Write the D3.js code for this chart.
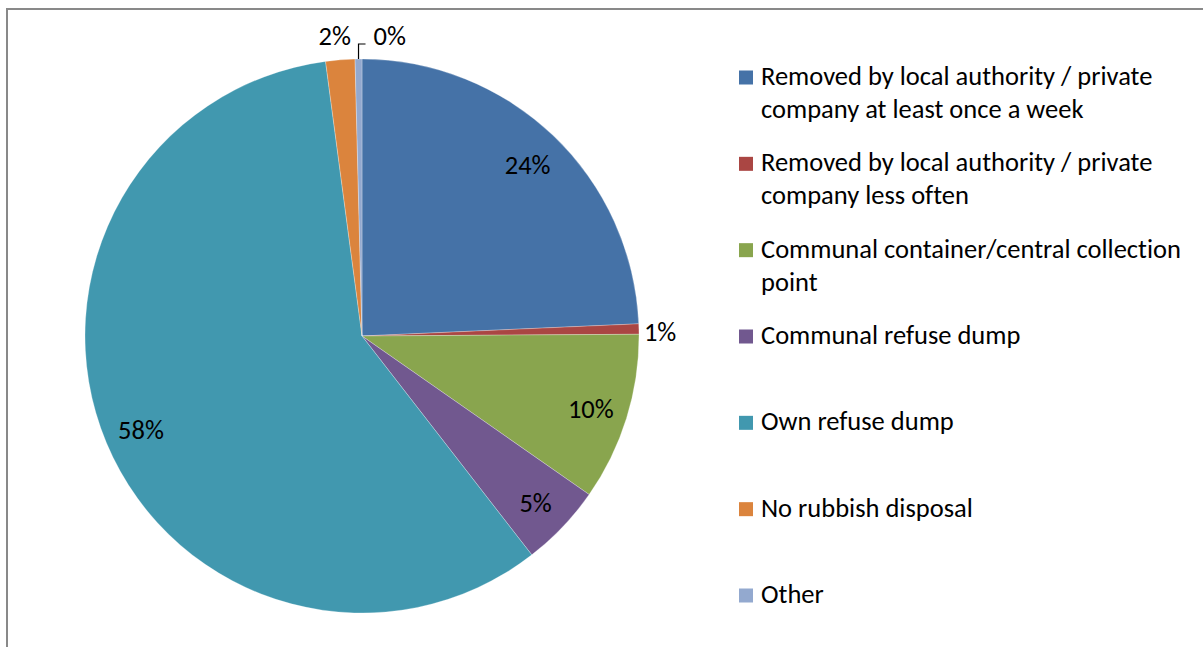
<!DOCTYPE html>
<html>
<head>
<meta charset="utf-8">
<script src="https://cdn.jsdelivr.net/npm/d3@7"></script>
<style>
  html, body { margin: 0; padding: 0; background: #fff; }
  svg { display: block; }
  text { font-family: Carlito, Calibri, "Open Sans", Lato, sans-serif; fill: #000; font-variant-ligatures: none; }
</style>
</head>
<body>
<svg id="chart" width="1203" height="647"></svg>
<script>
// Household rubbish disposal, share of households (%)
const categories = [
  "Removed by local authority / private company at least once a week",
  "Removed by local authority / private company less often",
  "Communal container/central collection point",
  "Communal refuse dump",
  "Own refuse dump",
  "No rubbish disposal",
  "Other"
];
const shares = [24.3, 0.6, 9.8, 4.8, 58.4, 1.7, 0.4];
// wrapped legend lines per category
const legendLines = [
  ["Removed by local authority / private", "company at least once a week"],
  ["Removed by local authority / private", "company less often"],
  ["Communal container/central collection", "point"],
  ["Communal refuse dump"],
  ["Own refuse dump"],
  ["No rubbish disposal"],
  ["Other"]
];
const colors = ["#4572A7", "#AA4643", "#89A54E", "#71588F", "#4198AF", "#DB843D", "#93A9CF"];

const svg = d3.select("#chart");
const W = 1203, H = 647;
const fontSize = 26.5;

// chart area frame
svg.append("rect")
  .attr("x", 7).attr("y", 9)
  .attr("width", W + 10).attr("height", H + 10)
  .attr("fill", "#fff")
  .attr("stroke", "#898989").attr("stroke-width", 2);

const cx = 362, cy = 336, r = 277;
const total = d3.sum(shares);
const data = categories.map((c, i) => ({ name: c, value: shares[i], color: colors[i] }));

const pie = d3.pie().sort(null).value(d => d.value).startAngle(0).endAngle(2 * Math.PI);
const arcs = pie(data);
const arc = d3.arc().innerRadius(0).outerRadius(r);
const labelArc = d3.arc().innerRadius(r * 0.865).outerRadius(r * 0.865);
const pct = d3.format(".0%");

const g = svg.append("g").attr("transform", `translate(${cx},${cy})`);

g.selectAll("path.slice")
  .data(arcs)
  .join("path")
  .attr("class", "slice")
  .attr("d", arc)
  .attr("fill", d => d.data.color)
  .attr("stroke", "rgba(255,255,255,0.45)")
  .attr("stroke-width", 0.6);

const mid = d => (d.startAngle + d.endAngle) / 2;
const pointAt = (a, rad) => [rad * Math.sin(a), -rad * Math.cos(a)];

// data labels
arcs.forEach((d, i) => {
  const label = pct(d.data.value / total);
  const share = d.data.value / total;
  const a = mid(d);
  if (share >= 0.03) {
    const [x, y] = labelArc.centroid(d);
    g.append("text")
      .attr("x", x).attr("y", y + 2)
      .attr("text-anchor", "middle")
      .attr("dominant-baseline", "central")
      .attr("font-size", fontSize)
      .text(label);
  } else if (Math.sin(a) > 0.7) {
    // right side: label just outside the rim
    const [x, y] = pointAt(a, r + 5);
    g.append("text")
      .attr("x", x).attr("y", y + 3)
      .attr("text-anchor", "start")
      .attr("dominant-baseline", "central")
      .attr("font-size", fontSize)
      .text(label);
  } else if (i === arcs.length - 1) {
    // last thin slice at the top: leader line to the label
    const [ex, ey] = pointAt(a, r);
    const ly = -r - 23;
    g.append("path")
      .attr("d", d3.line()([[ex, ey], [ex, ly + 8], [ex + 7, ly + 8]]))
      .attr("fill", "none")
      .attr("stroke", "#000")
      .attr("stroke-width", 1.2);
    g.append("text")
      .attr("x", ex + 15).attr("y", ly)
      .attr("text-anchor", "start")
      .attr("dominant-baseline", "central")
      .attr("font-size", fontSize)
      .text(label);
  } else {
    const [x] = pointAt(a, r + 6);
    g.append("text")
      .attr("x", x - 5).attr("y", -r - 23)
      .attr("text-anchor", "middle")
      .attr("dominant-baseline", "central")
      .attr("font-size", fontSize)
      .text(label);
  }
});

// legend
const yLegend = d3.scalePoint().domain(categories).range([85, 603]);
const lineH = 33;
const legend = svg.append("g");
data.forEach((d, i) => {
  const base = yLegend(d.name);
  legend.append("rect")
    .attr("x", 739).attr("y", base - 14.5)
    .attr("width", 14).attr("height", 14)
    .attr("fill", d.color);
  const t = legend.append("text")
    .attr("x", 761).attr("y", base)
    .attr("font-size", fontSize);
  legendLines[i].forEach((ln, k) => {
    t.append("tspan").attr("x", 761).attr("y", base + k * lineH).text(ln);
  });
});
</script>
</body>
</html>
